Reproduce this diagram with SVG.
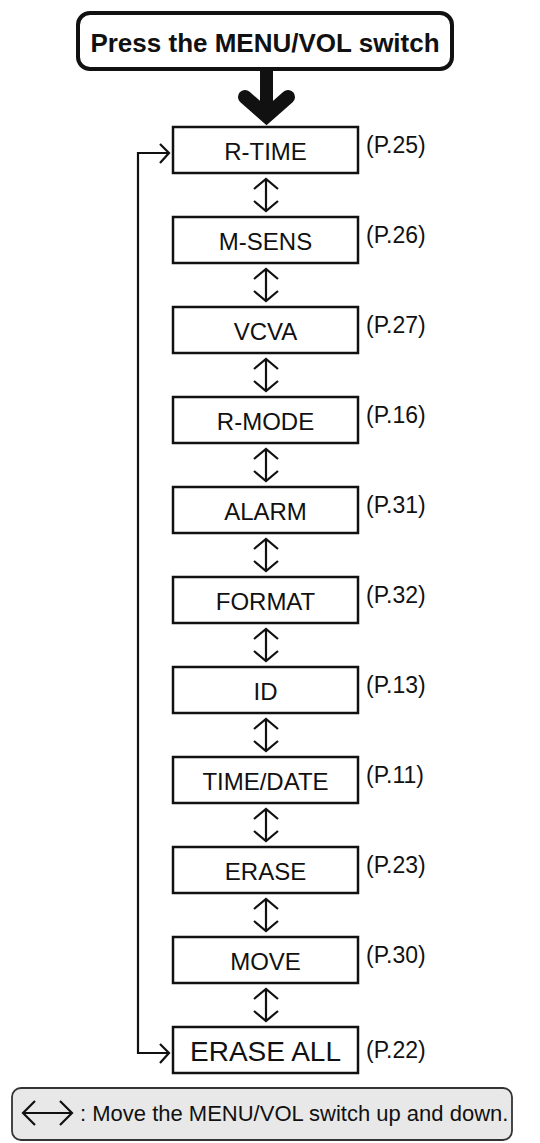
<svg xmlns="http://www.w3.org/2000/svg" width="540" height="1143" viewBox="0 0 540 1143">
<style>
.box{fill:#fff;stroke:#111;stroke-width:2.5}
.t{font-family:"Liberation Sans",Arial,sans-serif;font-size:24px;fill:#111;text-anchor:middle}
.p{font-family:"Liberation Sans",Arial,sans-serif;font-size:23px;fill:#111}
.ln{fill:none;stroke:#111;stroke-width:2.2}
</style>
<defs>
<path id="dbl" d="M266,269 V301 M254,279 L266,269 L278,279 M254,291 L266,301 L278,291"/>
</defs>
<rect width="540" height="1143" fill="#fff"/>
<g id="start">
<rect x="78" y="13" width="374" height="56" rx="12" fill="#fff" stroke="#111" stroke-width="4"/>
<text x="265" y="52" font-family="Liberation Sans,Arial,sans-serif" font-size="26" font-weight="bold" fill="#111" text-anchor="middle">Press the MENU/VOL switch</text>
</g>
<g id="connectors">
<line x1="266.5" y1="68" x2="266.5" y2="110" stroke="#111" stroke-width="13"/>
<polyline points="245,97 266.5,116 288,97" fill="none" stroke="#111" stroke-width="14" stroke-linecap="round" stroke-linejoin="miter"/>
<g class="ln">
<use href="#dbl" transform="translate(0,-90)"/>
<use href="#dbl"/>
<use href="#dbl" transform="translate(0,90)"/>
<use href="#dbl" transform="translate(0,180)"/>
<use href="#dbl" transform="translate(0,270)"/>
<use href="#dbl" transform="translate(0,360)"/>
<use href="#dbl" transform="translate(0,450)"/>
<use href="#dbl" transform="translate(0,540)"/>
<use href="#dbl" transform="translate(0,630)"/>
<use href="#dbl" transform="translate(0,720)"/>
<path d="M169,153 H138 V1053 H169"/>
<path d="M160,144 L169,153 L160,163"/>
<path d="M160,1044 L169,1053 L160,1063"/>
</g>
</g>
<g id="n1"><rect class="box" x="173" y="127" width="185" height="46"/><text class="t" x="265.5" y="160">R-TIME</text><text class="p" x="366" y="153">(P.25)</text></g>
<g id="n2"><rect class="box" x="173" y="217" width="185" height="46"/><text class="t" x="265.5" y="250">M-SENS</text><text class="p" x="366" y="243">(P.26)</text></g>
<g id="n3"><rect class="box" x="173" y="307" width="185" height="46"/><text class="t" x="265.5" y="340">VCVA</text><text class="p" x="366" y="333">(P.27)</text></g>
<g id="n4"><rect class="box" x="173" y="397" width="185" height="46"/><text class="t" x="265.5" y="430">R-MODE</text><text class="p" x="366" y="423">(P.16)</text></g>
<g id="n5"><rect class="box" x="173" y="487" width="185" height="46"/><text class="t" x="265.5" y="520">ALARM</text><text class="p" x="366" y="513">(P.31)</text></g>
<g id="n6"><rect class="box" x="173" y="577" width="185" height="46"/><text class="t" x="265.5" y="610">FORMAT</text><text class="p" x="366" y="603">(P.32)</text></g>
<g id="n7"><rect class="box" x="173" y="667" width="185" height="46"/><text class="t" x="265.5" y="700">ID</text><text class="p" x="366" y="693">(P.13)</text></g>
<g id="n8"><rect class="box" x="173" y="757" width="185" height="46"/><text class="t" x="265.5" y="790">TIME/DATE</text><text class="p" x="366" y="783">(P.11)</text></g>
<g id="n9"><rect class="box" x="173" y="847" width="185" height="46"/><text class="t" x="265.5" y="880">ERASE</text><text class="p" x="366" y="873">(P.23)</text></g>
<g id="n10"><rect class="box" x="173" y="937" width="185" height="46"/><text class="t" x="265.5" y="970">MOVE</text><text class="p" x="366" y="963">(P.30)</text></g>
<g id="n11"><rect class="box" x="173" y="1027" width="185" height="46" stroke-width="3"/><text class="t" x="265.5" y="1061" style="font-size:28px">ERASE ALL</text><text class="p" x="366" y="1058">(P.22)</text></g>
<g id="legend">
<rect x="12" y="1088" width="500" height="52" rx="9" fill="#e8e8e8" stroke="#333" stroke-width="1.8"/>
<g class="ln"><path d="M23,1113 H72 M35,1101 L23,1113 L35,1125 M60,1101 L72,1113 L60,1125"/></g>
<text x="80" y="1121" font-family="Liberation Sans,Arial,sans-serif" font-size="22" fill="#111">: Move the MENU/VOL switch up and down.</text>
</g>
</svg>
